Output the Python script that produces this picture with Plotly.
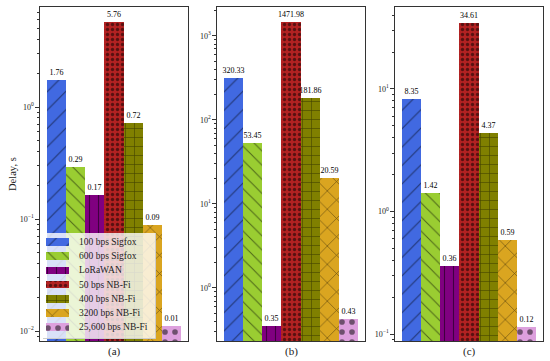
import plotly.graph_objects as go
import math

series_names = ["100 bps Sigfox", "600 bps Sigfox", "LoRaWAN", "50 bps NB-Fi",
                "400 bps NB-Fi", "3200 bps NB-Fi", "25,600 bps NB-Fi"]
colors = ["#4169E1", "#9ACD32", "#800080", "#B22222", "#808000", "#DAA520", "#DDA0DD"]
patterns = ["/", "\\", "|", ".", "+", "x", "."]
pattern_sizes = [13, 10, 9, 5, 9, 13, 10]
pattern_solid = [0.08, 0.1, 0.12, 0.35, 0.12, 0.1, 0.25]

values_a = [1.76, 0.29, 0.165, 5.76, 0.72, 0.088, 0.0112]
values_b = [320.33, 53.45, 0.355, 1471.98, 181.86, 20.59, 0.43]
values_c = [8.35, 1.42, 0.36, 34.61, 4.37, 0.59, 0.115]
panel_values = [values_a, values_b, values_c]
panel_labels = ["(a)", "(b)", "(c)"]
y_ranges = [(-2.089, 0.893), (-0.631, 3.345), (-1.057, 1.669)]
major_exps = [[-2, -1, 0], [0, 1, 2, 3], [-1, 0, 1]]

W, H = 550, 361
x_doms = [(40, 188), (217, 365), (395, 543)]
y_top, y_bot = 7, 341
FONT = "Liberation Serif"

def pat(i):
    return dict(shape=patterns[i], fgcolor="black", size=pattern_sizes[i],
                solidity=pattern_solid[i])

fig = go.Figure()
layout_axes = {}
annotations = [dict(text="Delay, s", x=12 / W, y=1 - 174 / H, xref="paper", yref="paper",
                    xanchor="center", yanchor="middle", textangle=-90, showarrow=False,
                    font=dict(family=FONT, size=10.5, color="#222"))]
for p in range(3):
    vals = panel_values[p]
    xa = "x" if p == 0 else f"x{p+1}"
    ya = "y" if p == 0 else f"y{p+1}"
    for i in range(7):
        fig.add_trace(go.Bar(
            x=[i], y=[vals[i]], width=1, name=series_names[i], showlegend=False,
            marker=dict(color=colors[i], line=dict(width=0), pattern=pat(i)),
            text=[f"{vals[i]:.2f}"], textposition="outside", constraintext="none",
            textfont=dict(family=FONT, size=8, color="black"), cliponaxis=False,
            xaxis=xa, yaxis=ya,
        ))
    lo, hi = y_ranges[p]
    minor = []
    for e in range(math.floor(lo), math.ceil(hi) + 1):
        for m in range(2, 10):
            v = m * 10 ** e
            if lo <= math.log10(v) <= hi:
                minor.append(v)
    x0, x1 = x_doms[p]
    key = "" if p == 0 else str(p + 1)
    layout_axes["xaxis" + key] = dict(
        domain=[x0 / W, x1 / W], range=[-0.85, 6.85], showticklabels=False,
        ticks="", showgrid=False, zeroline=False, showline=True, mirror=True,
        linecolor="#333", linewidth=1.2, anchor=ya,
    )
    layout_axes["yaxis" + key] = dict(
        domain=[1 - y_bot / H, 1 - y_top / H], type="log", range=[lo, hi],
        tickvals=[10 ** e for e in major_exps[p]],
        ticktext=[f"10<sup>{e}</sup>".replace("-", "−") for e in major_exps[p]],
        ticks="outside", ticklen=3.5, tickwidth=0.8, tickcolor="#333",
        minor=dict(tickvals=minor, ticks="outside", ticklen=2, tickwidth=0.6, tickcolor="#333"),
        showgrid=False, zeroline=False, showline=True, mirror=True,
        linecolor="#333", linewidth=1.2, anchor=xa,
        tickfont=dict(family=FONT, size=8, color="#222"),
    )
    annotations.append(dict(text=panel_labels[p], x=(x0 + x1) / 2 / W, y=1 - 351 / H,
                            xref="paper", yref="paper", xanchor="center", yanchor="middle",
                            showarrow=False, font=dict(family=FONT, size=11, color="#222")))

# hand-drawn legend inside panel (a), on its own small subplot (units = pixels)
lx0, lx1, ly0, ly1 = 43, 156, 233, 339
lw, lh = lx1 - lx0, ly1 - ly0
fig.add_trace(go.Bar(
    orientation="h", y=[lh / 2], x=[lw], base=[0], width=[lh], showlegend=False,
    marker=dict(color="rgba(255,255,255,0.8)", line=dict(color="#cccccc", width=1)),
    cliponaxis=False, hoverinfo="skip", xaxis="x4", yaxis="y4"))
for i in range(7):
    yc = 9 + 14.2 * i
    fig.add_trace(go.Bar(
        orientation="h", y=[yc], x=[23], base=[3], width=[7.5], showlegend=False,
        marker=dict(color=colors[i], line=dict(width=0), pattern=pat(i)),
        hoverinfo="skip", xaxis="x4", yaxis="y4"))
    annotations.append(dict(text=series_names[i], x=34, y=yc, xref="x4", yref="y4",
                            xanchor="left", yanchor="middle", showarrow=False,
                            font=dict(family=FONT, size=9.5, color="#222")))
layout_axes["xaxis4"] = dict(domain=[lx0 / W, lx1 / W], range=[0, lw], visible=False,
                             anchor="y4", fixedrange=True)
layout_axes["yaxis4"] = dict(domain=[1 - ly1 / H, 1 - ly0 / H], range=[lh, 0], visible=False,
                             anchor="x4", fixedrange=True)

fig.update_layout(
    width=W, height=H, margin=dict(l=0, r=0, t=0, b=0, autoexpand=False),
    plot_bgcolor="rgba(0,0,0,0)", paper_bgcolor="white", barmode="overlay", bargap=0,
    font=dict(family=FONT, color="#222"), showlegend=False,
    annotations=annotations,
    **layout_axes,
)
fig.write_html("out.html", config={"displayModeBar": False},
               post_script="document.body.style.margin='0';")
